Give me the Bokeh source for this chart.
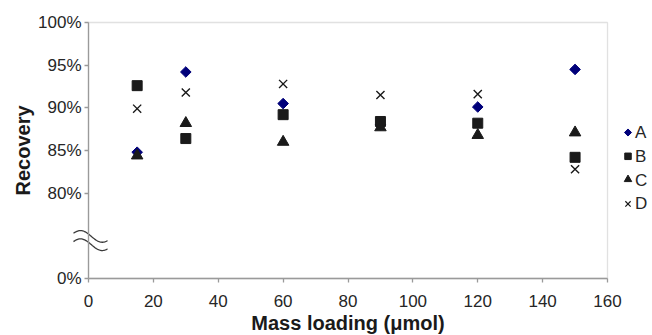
import numpy as np
from bokeh.plotting import figure
from bokeh.models import BoxAnnotation, FixedTicker, Range1d
from bokeh.core.properties import value
from bokeh.embed import file_html
from bokeh.resources import INLINE

# ---- data ----
mass = [15, 30, 60, 90, 120, 150]
rec_A = [84.8, 94.2, 90.5, 88.0, 90.1, 94.5]
rec_B = [92.6, 86.4, 89.2, 88.4, 88.2, 84.2]
rec_C = [84.4, 88.2, 86.0, 87.7, 86.8, 87.1]
rec_D = [89.9, 91.8, 92.8, 91.5, 91.6, 82.8]
series_names = ["A", "B", "C", "D"]
# broken axis: the "0%" tick is drawn at position 70
y_ticks = [70, 80, 85, 90, 95, 100]
y_tick_labels = ["0%", "80%", "85%", "90%", "95%", "100%"]
x_ticks = [0, 20, 40, 60, 80, 100, 120, 140, 160]

# ---- layout constants (pixels) ----
W, H = 652, 335
FL, FR, FT, FB = 88, 607, 22, 278          # plot box edges
XMIN, XMAX, YMIN, YMAX = 0, 160, 70, 100
SX = (XMAX - XMIN) / (FR - FL)
SY = (YMAX - YMIN) / (FB - FT)


def dx(px):
    return XMIN + (np.asarray(px, dtype=float) - FL) * SX


def dy(py):
    return YMIN + (FB - np.asarray(py, dtype=float)) * SY


FONT = "Liberation Sans"
AX = "#9a9a9a"
TXT = "#262626"
DARK = "#1a1a1a"
NAVY = "#00007a"

p = figure(width=W, height=H, output_backend="svg", toolbar_location=None,
           x_range=Range1d(float(dx(0)), float(dx(W))), y_range=Range1d(float(dy(H)), float(dy(0))),
           min_border=0, min_border_left=0, min_border_right=0,
           min_border_top=0, min_border_bottom=0)
p.background_fill_color = "white"
p.border_fill_color = "white"
p.outline_line_color = None
p.grid.visible = False

p.xaxis.fixed_location = YMIN
p.yaxis.fixed_location = XMIN
p.xaxis.bounds = (XMIN, XMAX)
p.yaxis.bounds = (YMIN, YMAX)
p.xaxis.ticker = FixedTicker(ticks=x_ticks)
p.yaxis.ticker = FixedTicker(ticks=y_ticks)
p.yaxis.major_label_overrides = {t: l for t, l in zip(y_ticks, y_tick_labels)}
p.xaxis.axis_label = "Mass loading (\u03bcmol)"
p.yaxis.axis_label = "Recovery"
for ax in (p.xaxis, p.yaxis):
    ax.axis_line_color = AX
    ax.axis_line_width = 1.3
    ax.major_tick_line_color = AX
    ax.major_tick_line_width = 1.3
    ax.major_tick_out = 4
    ax.major_tick_in = 0
    ax.minor_tick_line_color = None
    ax.major_label_text_font = FONT
    ax.major_label_text_font_size = "17px"
    ax.major_label_text_color = TXT
    ax.axis_label_text_font = FONT
    ax.axis_label_text_font_size = "20px"
    ax.axis_label_text_font_style = "bold"
    ax.axis_label_text_color = DARK
p.xaxis.major_label_standoff = 12
p.xaxis.axis_label_standoff = 2
p.yaxis.major_label_standoff = 3
p.yaxis.axis_label_standoff = 1

# top and right edges of the plot box
p.add_layout(BoxAnnotation(left=XMIN, right=XMAX, bottom=YMIN, top=YMAX,
                           fill_alpha=0, line_color=AX, line_width=1.3))

# data points
p.scatter(mass, rec_A, marker="square", angle=np.pi / 4, size=7.5,
          fill_color=NAVY, line_color=NAVY)
p.scatter(mass, rec_B, marker="square", size=10, fill_color=DARK, line_color=DARK)
p.scatter(mass, rec_C, marker="triangle", size=11.5, fill_color=DARK, line_color=DARK)
p.scatter(mass, rec_D, marker="x", size=11.5, line_color=DARK, line_width=1.4)

# legend (drawn as marks to keep the rotated diamond)
leg_py = 132 + 23.8 * np.arange(len(series_names))
leg_mx = dx(np.full(len(series_names), 627.5))
leg_tx = dx(np.full(len(series_names), 634.5))
leg_y = dy(leg_py)
p.scatter(leg_mx[:1], leg_y[:1], marker="square", angle=np.pi / 4, size=5,
          fill_color=NAVY, line_color=NAVY)
p.scatter(leg_mx[1:2], leg_y[1:2], marker="square", size=6.5, fill_color=DARK, line_color=DARK)
p.scatter(leg_mx[2:3], leg_y[2:3] + 0.08, marker="triangle", size=7.5, fill_color=DARK, line_color=DARK)
p.scatter(leg_mx[3:], leg_y[3:], marker="x", size=7.5, line_color=DARK, line_width=1.2)
p.text(leg_tx, leg_y, text=series_names, text_font=value(FONT), text_font_size="17px",
       text_color=TXT, text_align="left", text_baseline="middle")

# axis-break symbol (two small waves across the y axis)
bx = np.linspace(73, 107, 50)
phase = np.pi / 2 + (bx - 80) / 21.7 * np.pi
for cy in (235.9, 244.2):
    by = cy - 5.85 * np.sin(phase)
    p.line(dx(bx), dy(by), line_color="#3a3a3a", line_width=1.3)

open("out.html", "w").write(file_html(p, INLINE))
